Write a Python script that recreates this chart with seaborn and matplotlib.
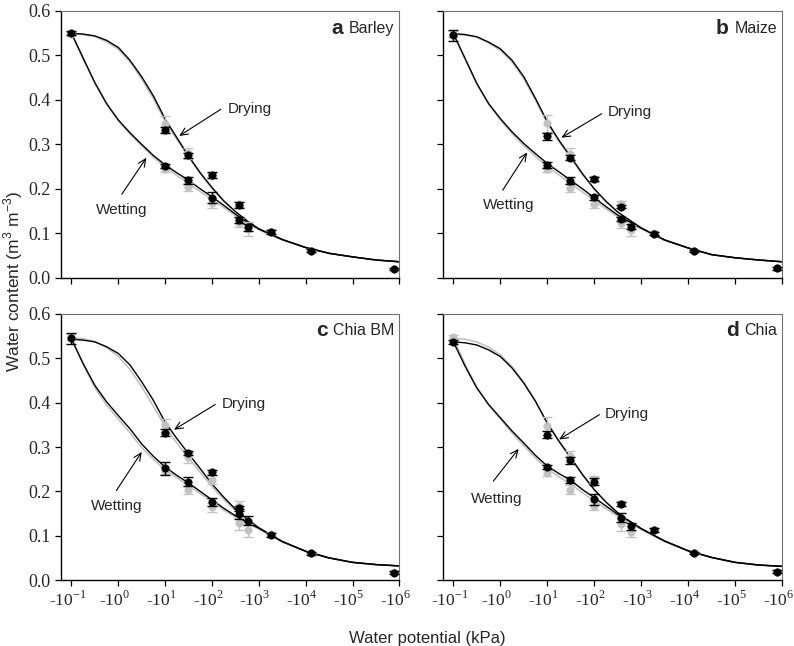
import numpy as np
import pandas as pd
import matplotlib
matplotlib.use('Agg')
import matplotlib.pyplot as plt
import matplotlib.transforms as mtransforms
import seaborn as sns

curve_kpa = [0.1, 0.178, 0.316, 0.562, 1, 1.78, 3.16, 5.62, 10, 17.8, 31.6, 56.2,
             100, 178, 316, 562, 1000, 3160, 10000, 31600, 1e5, 3.16e5, 1e6]

dry_a = [0.550, 0.548, 0.544, 0.534, 0.518, 0.489, 0.452, 0.409, 0.357, 0.315, 0.274, 0.236,
         0.203, 0.173, 0.149, 0.128, 0.110, 0.086, 0.068, 0.055, 0.047, 0.040, 0.036]
wet_a = [0.550, 0.494, 0.439, 0.392, 0.355, 0.326, 0.300, 0.275, 0.254, 0.236, 0.219, 0.200,
         0.182, 0.163, 0.143, 0.125, 0.110, 0.086, 0.068, 0.055, 0.047, 0.040, 0.036]
dry_a_g = [0.549, 0.547, 0.542, 0.531, 0.514, 0.485, 0.447, 0.403, 0.352, 0.311, 0.271, 0.234,
           0.201, 0.172, 0.148, 0.127, 0.109, 0.086, 0.068, 0.055, 0.047, 0.040, 0.036]
wet_a_g = [0.549, 0.492, 0.437, 0.390, 0.353, 0.323, 0.297, 0.271, 0.249, 0.230, 0.212, 0.194,
           0.176, 0.158, 0.140, 0.122, 0.108, 0.085, 0.068, 0.055, 0.047, 0.040, 0.036]

dry_b = [0.549, 0.547, 0.542, 0.530, 0.515, 0.489, 0.452, 0.403, 0.351, 0.309, 0.272, 0.234,
         0.200, 0.172, 0.148, 0.130, 0.112, 0.085, 0.067, 0.052, 0.045, 0.040, 0.036]
wet_b = [0.549, 0.493, 0.437, 0.392, 0.358, 0.328, 0.302, 0.279, 0.257, 0.238, 0.219, 0.200,
         0.180, 0.160, 0.141, 0.126, 0.112, 0.085, 0.067, 0.052, 0.045, 0.040, 0.036]
dry_b_g = [0.548, 0.546, 0.541, 0.528, 0.512, 0.485, 0.448, 0.399, 0.347, 0.306, 0.269, 0.232,
           0.199, 0.171, 0.147, 0.129, 0.111, 0.085, 0.067, 0.052, 0.045, 0.040, 0.036]
wet_b_g = [0.548, 0.491, 0.435, 0.390, 0.355, 0.324, 0.297, 0.273, 0.250, 0.231, 0.212, 0.193,
           0.174, 0.155, 0.137, 0.123, 0.110, 0.084, 0.067, 0.052, 0.045, 0.040, 0.036]

dry_c = [0.543, 0.541, 0.537, 0.526, 0.511, 0.485, 0.447, 0.405, 0.356, 0.319, 0.285, 0.251,
         0.217, 0.187, 0.160, 0.138, 0.118, 0.087, 0.065, 0.050, 0.040, 0.035, 0.032]
wet_c = [0.543, 0.488, 0.439, 0.402, 0.371, 0.341, 0.307, 0.279, 0.255, 0.236, 0.219, 0.200,
         0.181, 0.162, 0.145, 0.130, 0.117, 0.087, 0.065, 0.050, 0.040, 0.035, 0.032]
dry_c_g = [0.547, 0.544, 0.538, 0.525, 0.504, 0.475, 0.436, 0.392, 0.346, 0.309, 0.275, 0.243,
           0.211, 0.182, 0.157, 0.136, 0.117, 0.086, 0.065, 0.050, 0.040, 0.035, 0.032]
wet_c_g = [0.547, 0.486, 0.434, 0.395, 0.363, 0.332, 0.299, 0.272, 0.249, 0.231, 0.213, 0.195,
           0.177, 0.158, 0.142, 0.128, 0.115, 0.086, 0.065, 0.050, 0.040, 0.035, 0.032]

dry_d = [0.537, 0.535, 0.530, 0.519, 0.504, 0.478, 0.444, 0.403, 0.354, 0.313, 0.276, 0.238,
         0.204, 0.176, 0.152, 0.133, 0.116, 0.088, 0.066, 0.051, 0.040, 0.034, 0.031]
wet_d = [0.537, 0.482, 0.433, 0.396, 0.366, 0.336, 0.309, 0.281, 0.257, 0.240, 0.225, 0.204,
         0.186, 0.167, 0.148, 0.133, 0.116, 0.088, 0.066, 0.051, 0.040, 0.034, 0.031]
dry_d_g = [0.545, 0.543, 0.537, 0.525, 0.508, 0.481, 0.446, 0.402, 0.352, 0.311, 0.274, 0.237,
           0.203, 0.175, 0.151, 0.132, 0.115, 0.088, 0.066, 0.051, 0.040, 0.034, 0.031]
wet_d_g = [0.545, 0.486, 0.435, 0.395, 0.363, 0.332, 0.303, 0.275, 0.251, 0.233, 0.216, 0.197,
           0.179, 0.161, 0.144, 0.130, 0.114, 0.087, 0.066, 0.051, 0.040, 0.034, 0.031]

# measured points
dry_kpa = [0.1, 10, 31, 100, 380, 1850, 13000, 780000]
wet_kpa = [10, 31, 100, 380, 600]

pts_dry_a = [0.550, 0.332, 0.275, 0.232, 0.164, 0.103, 0.061, 0.020]
err_dry_a = [0.004, 0.006, 0.005, 0.007, 0.006, 0.004, 0.004, 0.003]
pts_wet_a = [0.251, 0.219, 0.180, 0.130, 0.114]
err_wet_a = [0.005, 0.008, 0.012, 0.006, 0.008]
pts_dry_a_g = [0.548, 0.345, 0.280, 0.230, 0.165, 0.104, 0.061, 0.020]
err_dry_a_g = [0.004, 0.018, 0.012, 0.006, 0.006, 0.005, 0.003, 0.003]
pts_wet_a_g = [0.245, 0.205, 0.168, 0.124, 0.110]
err_wet_a_g = [0.006, 0.009, 0.011, 0.010, 0.015]

pts_dry_b = [0.545, 0.318, 0.270, 0.222, 0.160, 0.099, 0.060, 0.021]
err_dry_b = [0.012, 0.008, 0.006, 0.004, 0.004, 0.003, 0.003, 0.003]
pts_wet_b = [0.253, 0.218, 0.181, 0.132, 0.115]
err_wet_b = [0.007, 0.008, 0.005, 0.005, 0.006]
pts_dry_b_g = [0.548, 0.347, 0.278, 0.222, 0.165, 0.101, 0.060, 0.021]
err_dry_b_g = [0.006, 0.020, 0.014, 0.006, 0.008, 0.005, 0.003, 0.003]
pts_wet_b_g = [0.244, 0.202, 0.166, 0.124, 0.107]
err_wet_b_g = [0.006, 0.010, 0.010, 0.012, 0.012]

pts_dry_c = [0.545, 0.332, 0.286, 0.243, 0.162, 0.102, 0.060, 0.017]
err_dry_c = [0.012, 0.008, 0.005, 0.006, 0.006, 0.004, 0.003, 0.003]
pts_wet_c = [0.252, 0.222, 0.176, 0.149, 0.134]
err_wet_c = [0.015, 0.010, 0.010, 0.012, 0.010]
pts_dry_c_g = [0.548, 0.349, 0.277, 0.226, 0.168, 0.104, 0.061, 0.018]
err_dry_c_g = [0.006, 0.015, 0.012, 0.010, 0.010, 0.005, 0.003, 0.003]
pts_wet_c_g = [0.247, 0.203, 0.164, 0.128, 0.112]
err_wet_c_g = [0.008, 0.010, 0.010, 0.015, 0.015]

pts_dry_d = [0.537, 0.328, 0.270, 0.222, 0.172, 0.113, 0.061, 0.019]
err_dry_d = [0.004, 0.008, 0.008, 0.008, 0.005, 0.004, 0.003, 0.003]
pts_wet_d = [0.255, 0.225, 0.182, 0.141, 0.121]
err_wet_d = [0.004, 0.007, 0.012, 0.010, 0.008]
pts_dry_d_g = [0.547, 0.347, 0.279, 0.227, 0.172, 0.113, 0.061, 0.019]
err_dry_d_g = [0.005, 0.020, 0.012, 0.008, 0.006, 0.004, 0.003, 0.003]
pts_wet_d_g = [0.242, 0.204, 0.167, 0.126, 0.109]
err_wet_d_g = [0.008, 0.010, 0.010, 0.015, 0.012]

letters = ['a', 'b', 'c', 'd']
names = ['Barley', 'Maize', 'Chia BM', 'Chia']
tick_exp = [-1, 0, 1, 2, 3, 4, 5, 6]

sns.set_style('ticks')
plt.rcParams['font.family'] = ['Liberation Sans', 'DejaVu Sans']
plt.rcParams['mathtext.fontset'] = 'custom'
plt.rcParams['mathtext.rm'] = 'Liberation Serif'
plt.rcParams['mathtext.sf'] = 'Liberation Sans'

GRAY = '#c2c2c2'

panels = {
    'a': dict(curves=(dry_a, wet_a, dry_a_g, wet_a_g),
              pts=(pts_dry_a, err_dry_a, pts_wet_a, err_wet_a, pts_dry_a_g, err_dry_a_g, pts_wet_a_g, err_wet_a_g),
              rect=[0.077, 0.570, 0.426, 0.413],
              dry_txt=(2.33, 0.379), dry_arr=((2.19, 0.379), (1.30, 0.319)),
              wet_txt=(-0.48, 0.152), wet_arr=((0.075, 0.188), (0.60, 0.270))),
    'b': dict(curves=(dry_b, wet_b, dry_b_g, wet_b_g),
              pts=(pts_dry_b, err_dry_b, pts_wet_b, err_wet_b, pts_dry_b_g, err_dry_b_g, pts_wet_b_g, err_wet_b_g),
              rect=[0.558, 0.570, 0.427, 0.413],
              dry_txt=(2.28, 0.373), dry_arr=((2.16, 0.369), (1.30, 0.315)),
              wet_txt=(-0.37, 0.163), wet_arr=((0.05, 0.197), (0.57, 0.282))),
    'c': dict(curves=(dry_c, wet_c, dry_c_g, wet_c_g),
              pts=(pts_dry_c, err_dry_c, pts_wet_c, err_wet_c, pts_dry_c_g, err_dry_c_g, pts_wet_c_g, err_wet_c_g),
              rect=[0.077, 0.102, 0.426, 0.412],
              dry_txt=(2.21, 0.398), dry_arr=((2.07, 0.396), (1.19, 0.339)),
              wet_txt=(-0.59, 0.168), wet_arr=((-0.04, 0.202), (0.50, 0.289))),
    'd': dict(curves=(dry_d, wet_d, dry_d_g, wet_d_g),
              pts=(pts_dry_d, err_dry_d, pts_wet_d, err_wet_d, pts_dry_d_g, err_dry_d_g, pts_wet_d_g, err_wet_d_g),
              rect=[0.558, 0.102, 0.427, 0.412],
              dry_txt=(2.22, 0.375), dry_arr=((2.11, 0.373), (1.25, 0.317)),
              wet_txt=(-0.63, 0.182), wet_arr=((-0.15, 0.223), (0.39, 0.296))),
}

fig = plt.figure(figsize=(7.94, 6.46), dpi=100)
shift_left = mtransforms.ScaledTranslation(-4 / 100, 0, fig.dpi_scale_trans)

for i, (letter, name) in enumerate(zip(letters, names)):
    p = panels[letter]
    ax = fig.add_axes(p['rect'])
    dry, wet, dry_g, wet_g = p['curves']

    curves = pd.DataFrame({'kPa': curve_kpa * 4,
                           'theta': dry_g + wet_g + dry + wet,
                           'curve': ['dry_g'] * 23 + ['wet_g'] * 23 + ['dry'] * 23 + ['wet'] * 23})
    for c, col, lw, z in [('dry_g', GRAY, 1.2, 1), ('wet_g', GRAY, 1.2, 1),
                          ('dry', 'black', 1.0, 2), ('wet', 'black', 1.0, 2)]:
        sub = curves[curves['curve'] == c]
        sns.lineplot(data=sub, x='kPa', y='theta', color=col, lw=lw, ax=ax,
                     estimator=None, sort=False, zorder=z)

    pd_, ed, pw, ew, pdg, edg, pwg, ewg = p['pts']
    for xs, ys, es, col, z in [(dry_kpa, pdg, edg, GRAY, 3), (wet_kpa, pwg, ewg, GRAY, 3),
                               (dry_kpa, pd_, ed, 'black', 4), (wet_kpa, pw, ew, 'black', 4)]:
        ax.errorbar(xs, ys, yerr=es, fmt='none', ecolor=col, elinewidth=1.0,
                    capsize=3.3, capthick=1.0, zorder=z)
        sns.scatterplot(x=xs, y=ys, color=col, s=28, edgecolor=col, linewidth=0.5,
                        ax=ax, zorder=z + 0.5)

    ax.set_xscale('log')
    ax.set_xlim(10 ** -1.22, 10 ** 6)
    ax.set_ylim(0, 0.6)
    ax.set_xticks([10.0 ** k for k in tick_exp])
    ax.xaxis.set_minor_locator(matplotlib.ticker.NullLocator())
    ax.set_yticks(np.arange(0, 0.61, 0.1))
    ax.set_xlabel('')
    ax.set_ylabel('')
    ax.tick_params(direction='out', length=4.5, width=0.9, color='black', pad=3)
    if letter in ('c', 'd'):
        ax.set_xticklabels(['-10$^{%d}$' % k for k in tick_exp], family='Liberation Serif', fontsize=12.5)
        for lab in ax.get_xticklabels():
            lab.set_transform(lab.get_transform() + shift_left)
    else:
        ax.set_xticklabels([])
    if letter in ('a', 'c'):
        ax.set_yticklabels(['%.1f' % v for v in np.arange(0, 0.61, 0.1)], family='Liberation Serif', fontsize=13)
    else:
        ax.set_yticklabels([])
    for s in ('left', 'bottom'):
        ax.spines[s].set_color('black')
        ax.spines[s].set_linewidth(1.0)
    for s in ('top', 'right'):
        ax.spines[s].set_color('#707070')
        ax.spines[s].set_linewidth(0.8)

    # annotations
    arr = dict(arrowstyle='->,head_length=0.55,head_width=0.25', lw=0.8, color='black',
               shrinkA=0, shrinkB=0)
    (tx, ty), (hx, hy) = p['dry_arr']
    ax.annotate('', xy=(10 ** hx, hy), xytext=(10 ** tx, ty), arrowprops=arr, zorder=6)
    ax.text(10 ** p['dry_txt'][0], p['dry_txt'][1], 'Drying', fontsize=11, ha='left', va='center')
    (tx, ty), (hx, hy) = p['wet_arr']
    ax.annotate('', xy=(10 ** hx, hy), xytext=(10 ** tx, ty), arrowprops=arr, zorder=6)
    ax.text(10 ** p['wet_txt'][0], p['wet_txt'][1], 'Wetting', fontsize=11, ha='left', va='center')

    nm = ax.text(0.985, 0.936, name, transform=ax.transAxes, fontsize=11.5, ha='right', va='center')
    ax.annotate(letter, xy=(0, 0.5), xycoords=nm, xytext=(-4, 0), textcoords='offset points',
                ha='right', va='center', fontsize=15, fontweight='bold')

fig.text(13 / 794, 1 - 281 / 646, 'Water content (m$^{\\mathsf{3}}$ m$^{\\mathsf{-3}}$)',
         rotation=90, ha='center', va='center', fontsize=12.5)
fig.text(427 / 794, 1 - 638 / 646, 'Water potential (kPa)', ha='center', va='center', fontsize=12)

fig.savefig('out.png', dpi=100)
